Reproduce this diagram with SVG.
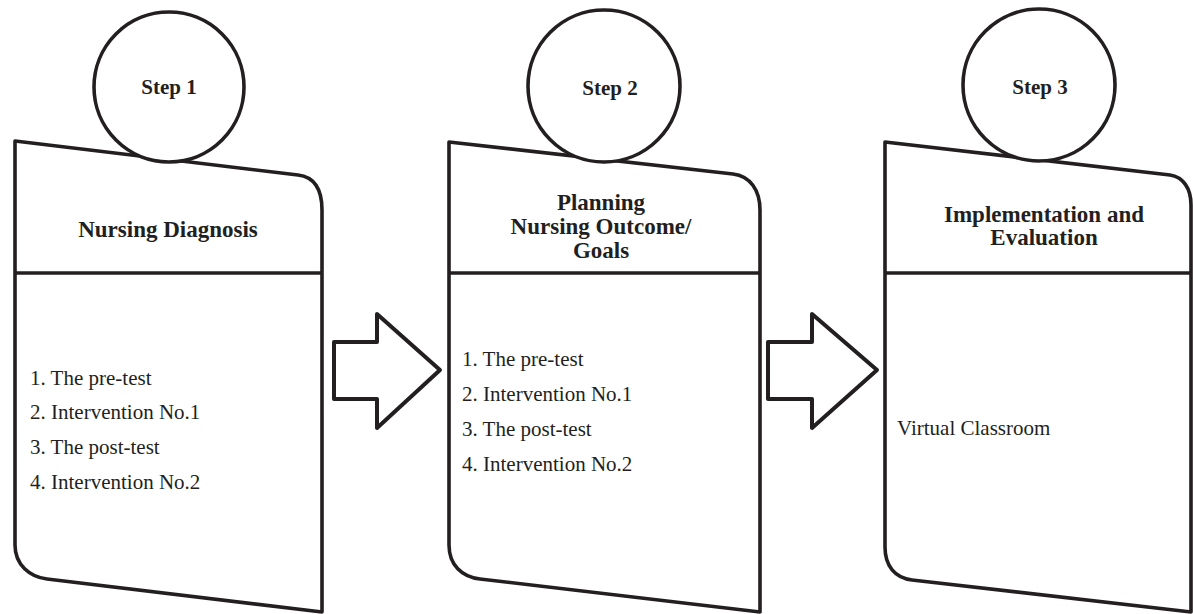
<svg xmlns="http://www.w3.org/2000/svg" width="1193" height="614" viewBox="0 0 1193 614">
<style>
.shape{fill:#fff;stroke:#231f20;stroke-width:3.6;stroke-linejoin:round}
.div{stroke:#231f20;stroke-width:3.6;fill:none}
.circ{fill:#fff;stroke:#231f20;stroke-width:3.6}
.step{font-family:"Liberation Serif",serif;font-weight:bold;font-size:21px;fill:#231f20;text-anchor:middle}
.title{font-family:"Liberation Serif",serif;font-weight:bold;font-size:23px;fill:#231f20;text-anchor:middle}
.body{font-family:"Liberation Serif",serif;font-size:21px;fill:#231f20}
.arrow{fill:#fff;stroke:#231f20;stroke-width:4;stroke-linejoin:round}
</style>
<rect width="1193" height="614" fill="#fff"/>
<g id="step1">
<path class="shape" d="M15,141 L298,175 C315,177 322,190 322,210 V612 L47,579 C30,577 15,565 15,545 Z"/>
<line class="div" x1="15" y1="273" x2="322" y2="273"/>
<circle class="circ" cx="169" cy="87" r="75"/>
<text class="step" x="169" y="94">Step 1</text>
<text class="title" x="168" y="237">Nursing Diagnosis</text>
<text class="body" x="30" y="385">1. The pre-test</text>
<text class="body" x="30" y="419">2. Intervention No.1</text>
<text class="body" x="30" y="454">3. The post-test</text>
<text class="body" x="30" y="489">4. Intervention No.2</text>
</g>
<g id="step2">
<path class="shape" d="M449,142 L733,174 C750,176 760,190 760,210 V612 L480,579 C462,577 449,565 449,545 Z"/>
<line class="div" x1="449" y1="273" x2="760" y2="273"/>
<circle class="circ" cx="604" cy="86" r="76"/>
<text class="step" x="610" y="95">Step 2</text>
<text class="title" x="601" y="210">Planning</text>
<text class="title" x="601" y="234">Nursing Outcome/</text>
<text class="title" x="601" y="258">Goals</text>
<text class="body" x="462" y="366">1. The pre-test</text>
<text class="body" x="462" y="401">2. Intervention No.1</text>
<text class="body" x="462" y="436">3. The post-test</text>
<text class="body" x="462" y="471">4. Intervention No.2</text>
</g>
<g id="step3">
<path class="shape" d="M885,142 L1170,175 C1183,177 1191,188 1191,205 V612 L912,580 C895,578 885,566 885,547 Z"/>
<line class="div" x1="885" y1="273" x2="1191" y2="273"/>
<circle class="circ" cx="1039" cy="85" r="76"/>
<text class="step" x="1040" y="94">Step 3</text>
<text class="title" x="1044" y="222">Implementation and</text>
<text class="title" x="1044" y="245">Evaluation</text>
<text class="body" x="897" y="435">Virtual Classroom</text>
</g>
<g id="connectors">
<polygon class="arrow" points="334,342 377,342 377,314 440,370 377,428 377,399 334,399"/>
<polygon class="arrow" points="768,342 812,342 812,314 877,370 812,428 812,399 768,399"/>
</g>
</svg>
